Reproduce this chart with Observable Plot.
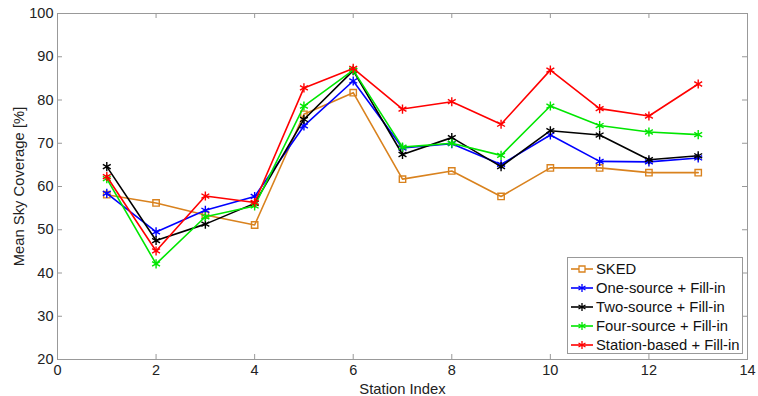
<!DOCTYPE html>
<html>
<head>
<meta charset="utf-8">
<script src="https://cdn.jsdelivr.net/npm/d3@7"></script>
<script src="https://cdn.jsdelivr.net/npm/@observablehq/plot@0.6"></script>
<style>
  body { margin: 0; background: #fff; font-family: "Liberation Sans", Arial, sans-serif; }
  #wrap { position: relative; width: 758px; height: 396px; }
  #legend { position: absolute; left: 567px; top: 257px; width: 176px; height: 97px;
    border: 1px solid #999; background: #fff; box-sizing: border-box; padding-top: 1px; }
  .row { display: flex; align-items: center; height: 19.1px; font-size: 14.8px; color: #111; }
  .row svg { margin-left: 3px; margin-right: 3px; }
</style>
</head>
<body>
<div id="wrap"></div>
<script>
const stations = [1,2,3,4,5,6,7,8,9,10,11,12,13];
const sked        = [58.1,56.2,53.4,51.1,76.7,81.7,61.7,63.6,57.7,64.3,64.3,63.2,63.2];
const oneSource   = [58.4,49.5,54.5,57.7,74.0,84.4,68.9,69.9,65.1,71.9,65.8,65.7,66.6];
const twoSource   = [64.6,47.5,51.3,56.1,75.5,86.8,67.4,71.3,64.6,72.9,71.9,66.2,67.1];
const fourSource  = [61.8,42.1,53.0,55.5,78.6,86.9,69.1,70.0,67.2,78.6,74.1,72.6,72.0];
const stationBased= [62.3,45.1,57.8,56.3,82.8,87.3,77.9,79.6,74.4,86.9,78.0,76.3,83.7];

const seriesNames = ["SKED","One-source + Fill-in","Two-source + Fill-in","Four-source + Fill-in","Station-based + Fill-in"];
const seriesColors = ["#d9821e","#0000ff","#000000","#00e600","#ff0000"];
const seriesSymbols = ["square","asterisk","asterisk","asterisk","asterisk"];
const seriesValues = [sked, oneSource, twoSource, fourSource, stationBased];

const xTicks = [0,2,4,6,8,10,12,14];
const yTicks = [20,30,40,50,60,70,80,90,100];

const rows = [];
seriesValues.forEach((vals, i) => vals.forEach((v, j) => rows.push({series: seriesNames[i], x: stations[j], y: v})));

const W = 758, H = 396;
const mL = 57, mR = 11, mT = 13, mB = 37;
const pw = W - mL - mR, ph = H - mT - mB;
const tickLen = 5;
const frameColor = "#999";

const marks = [
  Plot.frame({stroke: frameColor}),
  Plot.tickX(xTicks, {x: d => d, stroke: frameColor, insetTop: ph - tickLen}),
  Plot.tickX(xTicks, {x: d => d, stroke: frameColor, insetBottom: ph - tickLen}),
  Plot.tickY(yTicks, {y: d => d, stroke: frameColor, insetRight: pw - tickLen}),
  Plot.tickY(yTicks, {y: d => d, stroke: frameColor, insetLeft: pw - tickLen}),
  Plot.axisX(xTicks, {tickSize: 0, tickPadding: 5, fontSize: 14.5, label: null}),
  Plot.axisX({ticks: [], tickSize: 0, fontSize: 14.8, label: "Station Index", labelAnchor: "center", labelOffset: 34, labelArrow: "none"}),
  Plot.axisY(yTicks, {tickSize: 0, tickPadding: 4, fontSize: 14.5, label: null}),
  Plot.axisY({ticks: [], tickSize: 0, fontSize: 14.8, label: "Mean Sky Coverage [%]", labelAnchor: "center", labelOffset: 44, labelArrow: "none"})
];
seriesNames.forEach((name, i) => {
  const data = rows.filter(r => r.series === name);
  marks.push(Plot.line(data, {x: "x", y: "y", stroke: seriesColors[i], strokeWidth: 1.6}));
  marks.push(Plot.dot(data, {x: "x", y: "y", stroke: seriesColors[i], symbol: seriesSymbols[i], r: seriesSymbols[i] === "square" ? 3.6 : 4.3, strokeWidth: 1.4, fill: "none"}));
});

const chart = Plot.plot({
  width: W, height: H,
  marginLeft: mL, marginRight: mR, marginTop: mT, marginBottom: mB,
  style: {fontFamily: "'Liberation Sans', Arial, sans-serif", color: "#222", background: "#fff"},
  x: {domain: [0, 14]},
  y: {domain: [20, 100]},
  marks
});
const wrap = document.getElementById("wrap");
wrap.appendChild(chart);

// Legend
const legend = document.createElement("div");
legend.id = "legend";
seriesNames.forEach((name, i) => {
  const row = document.createElement("div");
  row.className = "row";
  const svg = d3.create("svg").attr("width", 22).attr("height", 12);
  svg.append("line").attr("x1", 0).attr("x2", 22).attr("y1", 6).attr("y2", 6)
    .attr("stroke", seriesColors[i]).attr("stroke-width", 1.6);
  const sym = seriesSymbols[i] === "square" ? d3.symbolSquare : d3.symbolAsterisk;
  svg.append("path").attr("d", d3.symbol(sym, seriesSymbols[i] === "square" ? 36 : 45)())
    .attr("transform", "translate(11,6)").attr("fill", seriesSymbols[i] === "square" ? "#fff" : "none")
    .attr("stroke", seriesColors[i]).attr("stroke-width", 1.3);
  row.appendChild(svg.node());
  const t = document.createElement("span");
  t.textContent = name;
  row.appendChild(t);
  legend.appendChild(row);
});
wrap.appendChild(legend);
</script>
</body>
</html>
